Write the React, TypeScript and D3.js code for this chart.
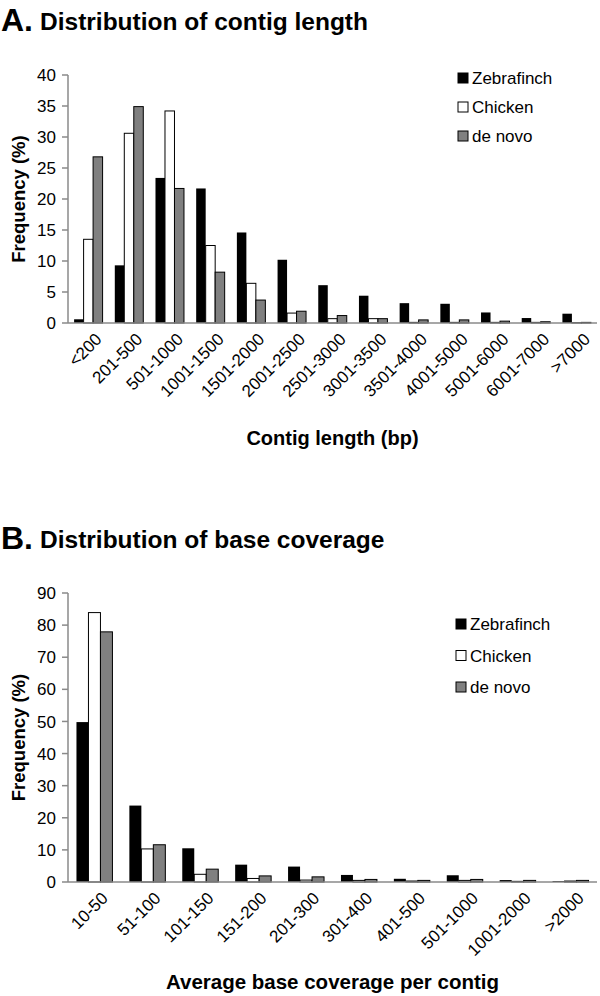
import React from "react";
import * as d3 from "d3";

const seriesNames = ["Zebrafinch", "Chicken", "de novo"];
const seriesFill = ["#000000", "#ffffff", "#808080"];

const lengthCats = ["<200", "201-500", "501-1000", "1001-1500", "1501-2000", "2001-2500", "2501-3000", "3001-3500", "3501-4000", "4001-5000", "5001-6000", "6001-7000", ">7000"];
const lengthZebrafinch = [0.6, 9.3, 23.4, 21.7, 14.6, 10.2, 6.1, 4.4, 3.2, 3.1, 1.7, 0.8, 1.5];
const lengthChicken = [13.5, 30.6, 34.2, 12.5, 6.4, 1.6, 0.7, 0.7, 0.1, 0.1, 0.1, 0.1, 0.05];
const lengthDenovo = [26.8, 34.9, 21.7, 8.2, 3.7, 1.9, 1.2, 0.7, 0.5, 0.5, 0.3, 0.2, 0.1];
const lengthTicks = [0, 5, 10, 15, 20, 25, 30, 35, 40];

const covCats = ["10-50", "51-100", "101-150", "151-200", "201-300", "301-400", "401-500", "501-1000", "1001-2000", ">2000"];
const covZebrafinch = [49.8, 23.8, 10.5, 5.4, 4.8, 2.2, 1.0, 2.1, 0.6, 0.3];
const covChicken = [83.9, 10.3, 2.4, 1.1, 0.6, 0.5, 0.3, 0.5, 0.2, 0.3];
const covDenovo = [77.9, 11.6, 4.0, 1.9, 1.6, 0.8, 0.5, 0.8, 0.5, 0.5];
const covTicks = [0, 10, 20, 30, 40, 50, 60, 70, 80, 90];

const FONT = "'Liberation Sans', Arial, Helvetica, sans-serif";
const AXIS = "#8a8a8a";

type PanelProps = {
  letter: string;
  title: string;
  titleY: number;
  cats: string[];
  series: number[][];
  ticks: number[];
  yMax: number;
  top: number;
  bottom: number;
  left: number;
  right: number;
  pad: number;
  xTitle: string;
  xTitleY: number;
  xTitleSize: number;
  legendX: number;
  legendY: number;
  legendGap: number;
};

function Panel(p: PanelProps) {
  const x = d3.scaleBand<string>().domain(p.cats).range([p.left, p.right]).paddingInner(p.pad).paddingOuter(p.pad / 2);
  const xs = d3.scaleBand<number>().domain(d3.range(p.series.length)).range([0, x.bandwidth()]);
  const y = d3.scaleLinear().domain([0, p.yMax]).range([p.bottom, p.top]);
  const midY = (p.top + p.bottom) / 2;
  return (
    <g>
      <text x={1} y={p.titleY} fontFamily={FONT} fontWeight="bold" fontSize={32}>{p.letter}</text>
      <text x={40} y={p.titleY - 1} fontFamily={FONT} fontWeight="bold" fontSize={24.5}>{p.title}</text>
      {/* y axis */}
      <line x1={p.left} x2={p.left} y1={y(p.yMax)} y2={p.bottom} stroke={AXIS} strokeWidth={1.5} />
      {p.ticks.map((t) => (
        <g key={t}>
          <line x1={p.left - 6} x2={p.left} y1={y(t)} y2={y(t)} stroke={AXIS} strokeWidth={1.5} />
          <text x={p.left - 12} y={y(t)} dy="0.36em" textAnchor="end" fontFamily={FONT} fontSize={17}>{t}</text>
        </g>
      ))}
      <text transform={`translate(25,${midY}) rotate(-90)`} textAnchor="middle" fontFamily={FONT} fontWeight="bold" fontSize={18.5}>Frequency (%)</text>
      {/* bars */}
      {p.cats.map((c, i) => (
        <g key={c}>
          {p.series.map((s, k) => (
            <rect key={k} x={(x(c) as number) + (xs(k) as number)} y={y(s[i])} width={xs.bandwidth()} height={p.bottom - y(s[i])}
              fill={seriesFill[k]} stroke={k === 0 ? "none" : "#000"} strokeWidth={1} />
          ))}
        </g>
      ))}
      {/* x axis */}
      <line x1={p.left} x2={p.right} y1={p.bottom} y2={p.bottom} stroke={AXIS} strokeWidth={1.5} />
      {p.cats.map((c) => {
        const cx = (x(c) as number) + x.bandwidth() / 2;
        return (
          <text key={c} transform={`translate(${cx + 6},${p.bottom + 9}) rotate(-45)`} dy="0.7em" textAnchor="end" fontFamily={FONT} fontSize={17}>{c}</text>
        );
      })}
      <text x={(p.left + p.right) / 2} y={p.xTitleY} textAnchor="middle" fontFamily={FONT} fontWeight="bold" fontSize={p.xTitleSize}>{p.xTitle}</text>
      {/* legend */}
      {seriesNames.map((n, k) => (
        <g key={n} transform={`translate(${p.legendX},${p.legendY + k * p.legendGap})`}>
          <rect x={0} y={-5} width={10} height={10} fill={seriesFill[k]} stroke="#000" strokeWidth={1} />
          <text x={14} y={0} dy="0.36em" fontFamily={FONT} fontSize={17}>{n}</text>
        </g>
      ))}
    </g>
  );
}

export default function App() {
  return (
    <svg width={600} height={996} style={{ position: "absolute", left: 0, top: 0, background: "#fff" }}>
      <rect width={600} height={996} fill="#fff" />
      <Panel letter="A." title="Distribution of contig length" titleY={31}
        cats={lengthCats} series={[lengthZebrafinch, lengthChicken, lengthDenovo]} ticks={lengthTicks} yMax={40}
        top={75} bottom={323} left={68} right={597} pad={0.3}
        xTitle="Contig length (bp)" xTitleY={445} xTitleSize={20}
        legendX={458} legendY={78} legendGap={29} />
      <Panel letter="B." title="Distribution of base coverage" titleY={549}
        cats={covCats} series={[covZebrafinch, covChicken, covDenovo]} ticks={covTicks} yMax={90}
        top={593} bottom={882} left={68} right={597} pad={0.32}
        xTitle="Average base coverage per contig" xTitleY={989} xTitleSize={20.5}
        legendX={456} legendY={624} legendGap={31.5} />
    </svg>
  );
}
